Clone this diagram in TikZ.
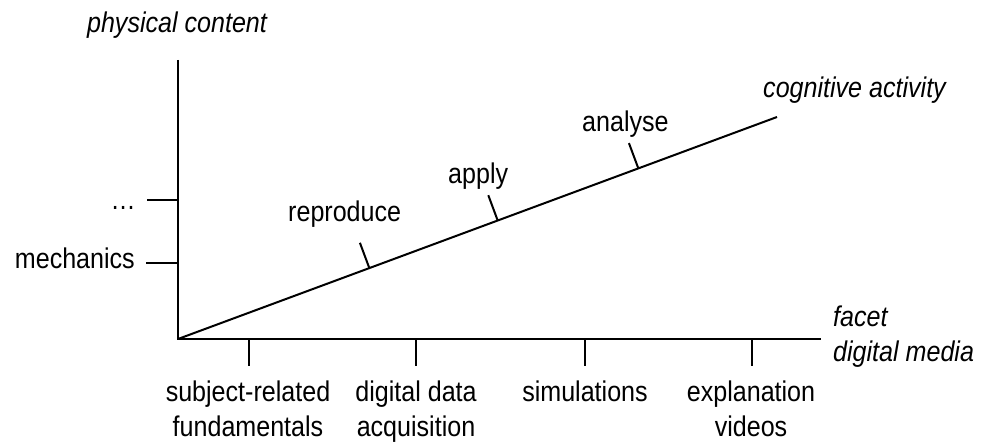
\documentclass[tikz,border=0pt]{standalone}
\usepackage{fontspec}
\setmainfont[FakeStretch=0.88]{Liberation Sans}
\usetikzlibrary{calc}
\tikzset{
  axis/.style={line width=2pt, line cap=butt},
  tickline/.style={line width=2pt},
  lbl/.style={inner sep=0pt, font=\fontsize{28.5}{35}\selectfont},
  ilbl/.style={lbl, font=\fontsize{28.5}{35}\selectfont\itshape},
}
\begin{document}
\begin{tikzpicture}[x=1pt,y=-1pt]
\useasboundingbox (0,0) rectangle (987,446);
% axes
\coordinate (O) at (178,339);
\coordinate (ytop) at (178,60);
\coordinate (xend) at (821,339);
\coordinate (dend) at (777,117);
\draw[axis] (ytop) -- (O) -- (xend);
\draw[axis] (O) -- (dend);
% axis titles
\node[ilbl, anchor=base] (tphys) at (177,33) {physical content};
\node[ilbl, anchor=base west] (tcog) at (763,98) {cognitive activity};
\node[ilbl, anchor=base west, align=left] (tfacet) at (833,361.7) {facet\\digital media};
% y ticks
\coordinate (ydots) at (178,200);
\coordinate (ymech) at (178,263);
\draw[tickline] (ydots) -- ++(-31,0) coordinate (ydotsL);
\draw[tickline] (ymech) -- ++(-32,0) coordinate (ymechL);
\node[lbl, anchor=base east] (ldots) at (136,210) {…};
\node[lbl, anchor=base east] (lmech) at (135,269) {mechanics};
% x ticks
\foreach \n/\x in {a/249,b/416,c/585,d/752}{
  \coordinate (x\n) at (\x,339);
  \draw[tickline] (x\n) -- ++(0,27) coordinate (x\n b);
}
\node[lbl, anchor=base, align=center] (lsubj) at (248,436.7) {subject-related\\fundamentals};
\node[lbl, anchor=base, align=center] (ldig) at (416,436.7) {digital data\\acquisition};
\node[lbl, anchor=base] (lsim) at (585,401.7) {simulations};
\node[lbl, anchor=base, align=center] (lexp) at (751,436.7) {explanation\\videos};
% diagonal ticks
\foreach \n/\t in {r/0.3194,p/0.5337,n/0.7685}{
  \coordinate (d\n) at ($(O)!\t!(dend)$);
  \draw[tickline] (d\n) -- ++(-9.4,-25.3) coordinate (d\n t);
}
\node[lbl, anchor=base west] (lrep) at (288,222) {reproduce};
\node[lbl, anchor=base west] (lapp) at (448,183.3) {apply};
\node[lbl, anchor=base west] (lana) at (582,131.7) {analyse};
\end{tikzpicture}
\end{document}
